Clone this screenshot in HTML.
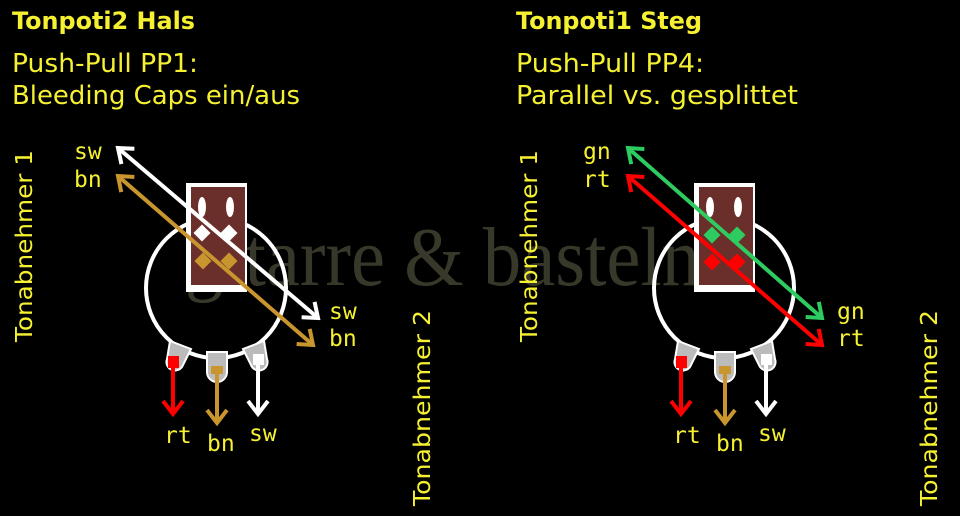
<!DOCTYPE html>
<html><head><meta charset="utf-8"><style>
html,body{margin:0;padding:0;background:#000;}
svg{display:block}
.t{font-family:"DejaVu Sans","Liberation Sans",sans-serif;fill:#f5f032}
.m{font-family:"DejaVu Sans Mono","Liberation Mono",monospace;fill:#f5f032;font-size:23px}
</style></head><body>
<svg width="960" height="516" viewBox="0 0 960 516" xmlns="http://www.w3.org/2000/svg">
<defs>
<marker id="aw" markerWidth="10" markerHeight="10" refX="6" refY="5" orient="auto-start-reverse" markerUnits="userSpaceOnUse" viewBox="0 0 10 10" overflow="visible"><path d="M-7,-5 L6,5 L-7,15" fill="none" stroke="context-stroke" stroke-width="4"/></marker>
<g id="lugs">
<path d="M170,341 l21,8 l-8,16 a8,8 0 0 1 -16,-6 z" fill="#bbb" stroke="#fff" stroke-width="2"/>
<rect x="168" y="356" width="11" height="12" fill="#f00"/>
<path d="M207,352 h20 v20 a10,10 0 0 1 -20,0 z" fill="#bbb" stroke="#fff" stroke-width="2"/>
<rect x="211" y="366" width="12" height="8" fill="#c9952e"/>
<path d="M264,341 l-21,8 l8,16 a8,8 0 0 0 16,-6 z" fill="#bbb" stroke="#fff" stroke-width="2"/>
<rect x="253" y="354" width="11" height="11" fill="#fff"/>
<line x1="173" y1="366" x2="173" y2="414" stroke="#f00" stroke-width="4" marker-end="url(#aw)"/>
<line x1="217" y1="374" x2="217" y2="423" stroke="#c9952e" stroke-width="4" marker-end="url(#aw)"/>
<line x1="258" y1="364" x2="258" y2="414" stroke="#fff" stroke-width="4" marker-end="url(#aw)"/>
</g>
<g id="body">
<circle cx="216" cy="288" r="70" fill="none" stroke="#fff" stroke-width="4"/>
<rect x="186" y="183" width="61" height="109" fill="#fff"/>
<rect x="191" y="187" width="54" height="98" fill="#6b2f2b"/>
<ellipse cx="202" cy="207" rx="4" ry="10" fill="#fff"/>
<ellipse cx="230" cy="207" rx="4" ry="10" fill="#fff"/>
</g>
</defs>
<rect width="960" height="516" fill="#000"/>
<text x="185" y="285" font-family="Liberation Serif,serif" font-size="84" fill="#38382a" textLength="515" lengthAdjust="spacingAndGlyphs">gitarre &amp; basteln</text>

<text class="t" x="12" y="29" font-size="24" font-weight="bold" textLength="183" lengthAdjust="spacingAndGlyphs">Tonpoti2 Hals</text>
<text class="t" x="12" y="72" font-size="26" textLength="186" lengthAdjust="spacingAndGlyphs">Push-Pull PP1:</text>
<text class="t" x="12" y="104" font-size="26" textLength="288" lengthAdjust="spacingAndGlyphs">Bleeding Caps ein/aus</text>
<text class="t" font-size="23" transform="translate(32,342) rotate(-90)" textLength="192" lengthAdjust="spacingAndGlyphs">Tonabnehmer  1</text>
<text class="t" font-size="23" transform="translate(430,506) rotate(-90)" textLength="196" lengthAdjust="spacingAndGlyphs">Tonabnehmer  2</text>

<text class="t" x="516" y="29" font-size="24" font-weight="bold" textLength="186" lengthAdjust="spacingAndGlyphs">Tonpoti1 Steg</text>
<text class="t" x="516" y="72" font-size="26" textLength="188" lengthAdjust="spacingAndGlyphs">Push-Pull PP4:</text>
<text class="t" x="516" y="104" font-size="26" textLength="282" lengthAdjust="spacingAndGlyphs">Parallel vs. gesplittet</text>
<text class="t" font-size="23" transform="translate(537,342) rotate(-90)" textLength="192" lengthAdjust="spacingAndGlyphs">Tonabnehmer  1</text>
<text class="t" font-size="23" transform="translate(937,506) rotate(-90)" textLength="196" lengthAdjust="spacingAndGlyphs">Tonabnehmer  2</text>

<g>
<use href="#body"/>
<use href="#lugs"/>
<line x1="118" y1="148" x2="318" y2="318" stroke="#fff" stroke-width="4" marker-start="url(#aw)" marker-end="url(#aw)"/>
<line x1="118" y1="176" x2="313" y2="345" stroke="#c9952e" stroke-width="4" marker-start="url(#aw)" marker-end="url(#aw)"/>
<rect x="196" y="227" width="12" height="12" fill="#fff" transform="rotate(45 202 233)"/>
<rect x="223" y="227" width="12" height="12" fill="#fff" transform="rotate(45 229 233)"/>
<rect x="197" y="255" width="12" height="12" fill="#c9952e" transform="rotate(45 203 261)"/>
<rect x="223" y="255" width="12" height="12" fill="#c9952e" transform="rotate(45 229 261)"/>
<text class="m" x="74" y="159">sw</text>
<text class="m" x="74" y="187">bn</text>
<text class="m" x="329" y="319">sw</text>
<text class="m" x="329" y="346">bn</text>
<text class="m" x="164" y="443">rt</text>
<text class="m" x="207" y="451">bn</text>
<text class="m" x="249" y="441">sw</text>
</g>

<g transform="translate(508,0)">
<use href="#body"/>
<use href="#lugs"/>
<line x1="120" y1="148" x2="314" y2="318" stroke="#2ecc60" stroke-width="4" marker-start="url(#aw)" marker-end="url(#aw)"/>
<line x1="120" y1="176" x2="314" y2="345" stroke="#f00" stroke-width="4" marker-start="url(#aw)" marker-end="url(#aw)"/>
<rect x="198" y="229" width="12" height="12" fill="#2ecc60" transform="rotate(45 204 235)"/>
<rect x="223" y="229" width="12" height="12" fill="#2ecc60" transform="rotate(45 229 235)"/>
<rect x="198" y="256" width="12" height="12" fill="#f00" transform="rotate(45 204 262)"/>
<rect x="223" y="256" width="12" height="12" fill="#f00" transform="rotate(45 229 262)"/>
<text class="m" x="75" y="159">gn</text>
<text class="m" x="75" y="187">rt</text>
<text class="m" x="329" y="319">gn</text>
<text class="m" x="329" y="346">rt</text>
<text class="m" x="165" y="443">rt</text>
<text class="m" x="208" y="451">bn</text>
<text class="m" x="250" y="441">sw</text>
</g>
</svg>
</body></html>
